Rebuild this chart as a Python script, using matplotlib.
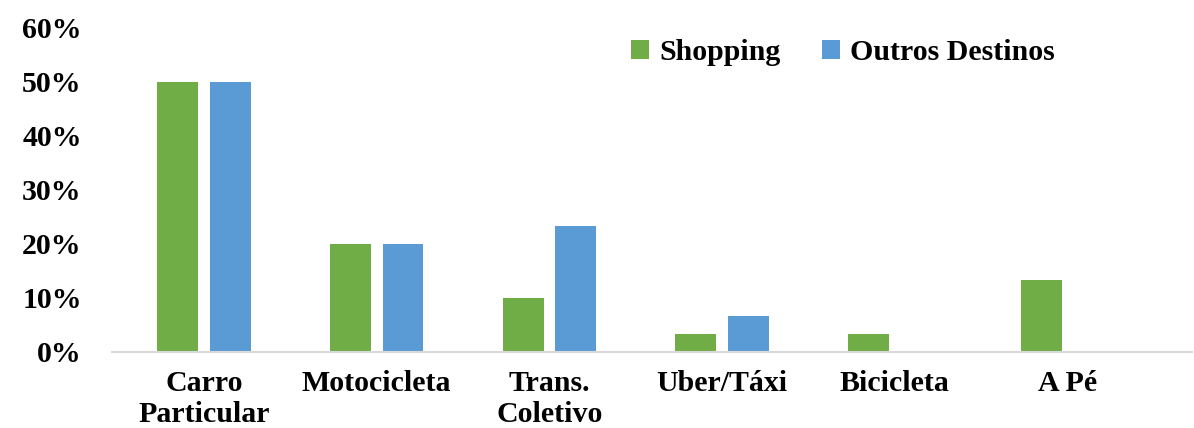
import numpy as np
import matplotlib.pyplot as plt
from matplotlib.ticker import PercentFormatter

# dados
categorias = ['Carro\nParticular', 'Motocicleta', 'Trans.\nColetivo', 'Uber/Táxi', 'Bicicleta', 'A Pé']
shopping = [50.0, 20.0, 10.0, 3.3, 3.3, 13.3]
outros = [50.0, 20.0, 23.3, 6.7, 0.0, 0.0]
series = ['Shopping', 'Outros Destinos']

plt.rcParams['font.family'] = ['Liberation Serif', 'DejaVu Serif']
plt.rcParams['font.weight'] = 'bold'

verde = '#70AD47'
azul = '#5B9BD5'

fig = plt.figure(figsize=(11.94, 4.28), dpi=100)
ax = fig.add_axes([0.094, 0.178, 0.904, 0.757])

x = np.arange(len(categorias))
w = 0.237
off = 0.152
ax.bar(x - off, shopping, w, color=verde, label=series[0])
ax.bar(x + off, outros, w, color=azul, label=series[1])

ax.set_xlim(-0.532, 5.72)
ax.set_ylim(0, 60)
ax.set_yticks(np.arange(0, 61, 10))
ax.yaxis.set_major_formatter(PercentFormatter(decimals=0))
ax.set_xticks(x)
ax.set_xticklabels(categorias, linespacing=1.18)

for s in ['top', 'right', 'left']:
    ax.spines[s].set_visible(False)
ax.spines['bottom'].set_color('#D9D9D9')
ax.spines['bottom'].set_linewidth(1.5)
ax.tick_params(axis='y', length=0, pad=22, labelsize=21.5)
ax.tick_params(axis='x', length=0, pad=13, labelsize=21.5)

leg = ax.legend(loc='center', bbox_to_anchor=(0.706, 0.878), bbox_transform=fig.transFigure,
                ncol=2, frameon=False, fontsize=21.5, handlelength=0.6, handleheight=0.6,
                handletextpad=0.35, columnspacing=1.4)

fig.savefig('out.png', dpi=100)
